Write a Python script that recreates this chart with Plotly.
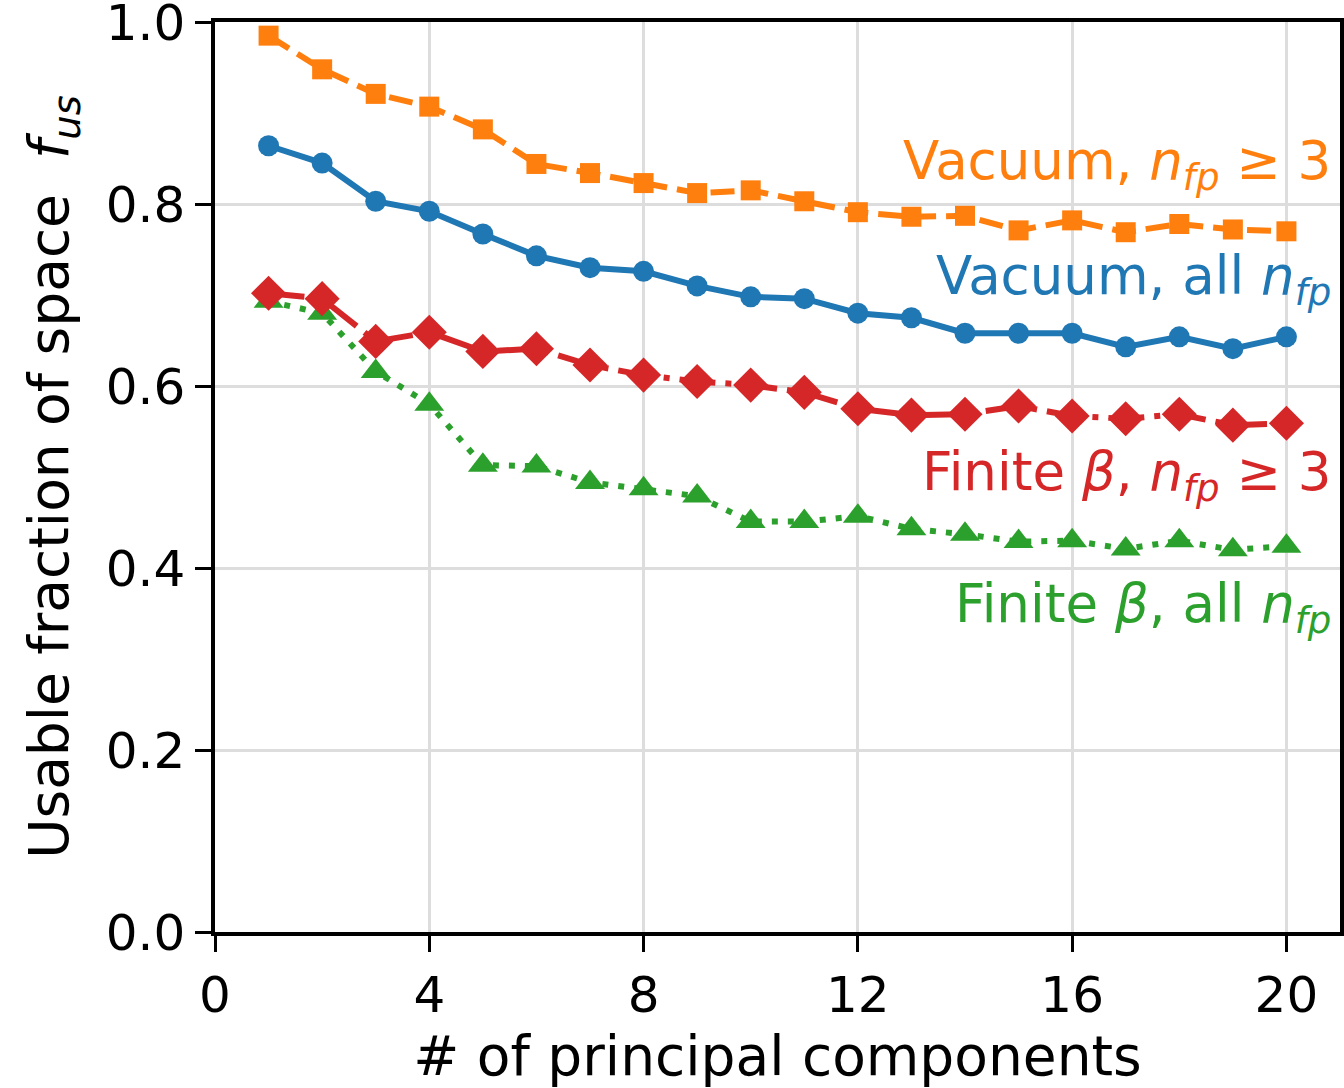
import plotly.graph_objects as go

# number of principal components kept
n_pc = list(range(1, 21))

# usable fraction of space for each case
vac_nfp3 = [0.985, 0.948, 0.921, 0.907, 0.882, 0.844, 0.834, 0.823, 0.812, 0.815,
            0.803, 0.791, 0.786, 0.787, 0.771, 0.782, 0.769, 0.778, 0.772, 0.770]
vac_all = [0.864, 0.845, 0.803, 0.792, 0.767, 0.743, 0.730, 0.726, 0.710, 0.698,
           0.696, 0.680, 0.675, 0.658, 0.658, 0.658, 0.643, 0.654, 0.641, 0.654]
beta_nfp3 = [0.702, 0.696, 0.649, 0.659, 0.638, 0.641, 0.623, 0.612, 0.605, 0.601,
             0.593, 0.575, 0.568, 0.569, 0.578, 0.567, 0.564, 0.569, 0.557, 0.559]
beta_all = [0.693, 0.680, 0.616, 0.580, 0.513, 0.512, 0.494, 0.487, 0.479, 0.451,
            0.451, 0.457, 0.443, 0.437, 0.429, 0.430, 0.421, 0.430, 0.420, 0.424]

xticks = [0, 4, 8, 12, 16, 20]
yticks = [0.0, 0.2, 0.4, 0.6, 0.8, 1.0]

BLUE, ORANGE, GREEN, RED = "#1f77b4", "#ff7f0e", "#2ca02c", "#d62728"
FONT = "DejaVu Sans"

fig = go.Figure()

# drawn in the same order as the original (blue, orange, green, red)
fig.add_trace(go.Scatter(x=n_pc, y=vac_all, mode="lines+markers",
                         line=dict(color=BLUE, width=6),
                         marker=dict(symbol="circle", size=21, color=BLUE)))
fig.add_trace(go.Scatter(x=n_pc, y=vac_nfp3, mode="lines+markers",
                         line=dict(color=ORANGE, width=6, dash="24px,10px"),
                         marker=dict(symbol="square", size=20, color=ORANGE)))
fig.add_trace(go.Scatter(x=n_pc, y=beta_all, mode="lines+markers",
                         line=dict(color=GREEN, width=6, dash="6px,10px"),
                         marker=dict(symbol="triangle-up", size=26, color=GREEN)))
fig.add_trace(go.Scatter(x=n_pc, y=beta_nfp3, mode="lines+markers",
                         line=dict(color=RED, width=6, dash="36px,10px,6px,10px"),
                         marker=dict(symbol="diamond", size=27, color=RED)))

labels = [
    ("Vacuum, <i>n</i><sub><i>fp</i></sub> ≥ 3", 0.843, ORANGE),
    ("Vacuum, all <i>n</i><sub><i>fp</i></sub>", 0.717, BLUE),
    ("Finite <i>β</i>, <i>n</i><sub><i>fp</i></sub> ≥ 3", 0.502, RED),
    ("Finite <i>β</i>, all <i>n</i><sub><i>fp</i></sub>", 0.357, GREEN),
]
for txt, yy, col in labels:
    fig.add_annotation(x=20.86, y=yy, xref="x", yref="y", text=txt, showarrow=False,
                       xanchor="right", yanchor="middle",
                       font=dict(family=FONT, size=53, color=col))

axis_common = dict(showline=True, linecolor="black", linewidth=3.5, mirror=True,
                   ticks="outside", ticklen=16, tickwidth=3, tickcolor="black",
                   showgrid=True, gridcolor="#dddddd", gridwidth=3, zeroline=False,
                   automargin=False, ticklabeloverflow="allow",
                   tickfont=dict(family=FONT, size=50, color="black"))

fig.update_xaxes(range=[0, 21], tickvals=xticks, ticktext=[str(v) for v in xticks],
                 title=dict(text="# of principal components", standoff=14,
                            font=dict(family=FONT, size=55, color="black")),
                 **axis_common)
fig.update_yaxes(range=[0, 1], tickvals=yticks, ticktext=[f"{v:.1f}" for v in yticks],
                 title=dict(text="Usable fraction of space  <i>f</i><sub><i>us</i></sub>",
                            standoff=20, font=dict(family=FONT, size=55, color="black")),
                 **axis_common)

fig.update_layout(width=1344, height=1088, showlegend=False,
                  plot_bgcolor="white", paper_bgcolor="white",
                  margin=dict(l=215, r=4, t=22, b=156),
                  font=dict(family=FONT))

# drop the default 8px page margin so the figure fills the window exactly
fig.write_html("out.html", config={"displayModeBar": False},
               post_script="document.body.style.margin='0';document.body.style.overflow='hidden';")
